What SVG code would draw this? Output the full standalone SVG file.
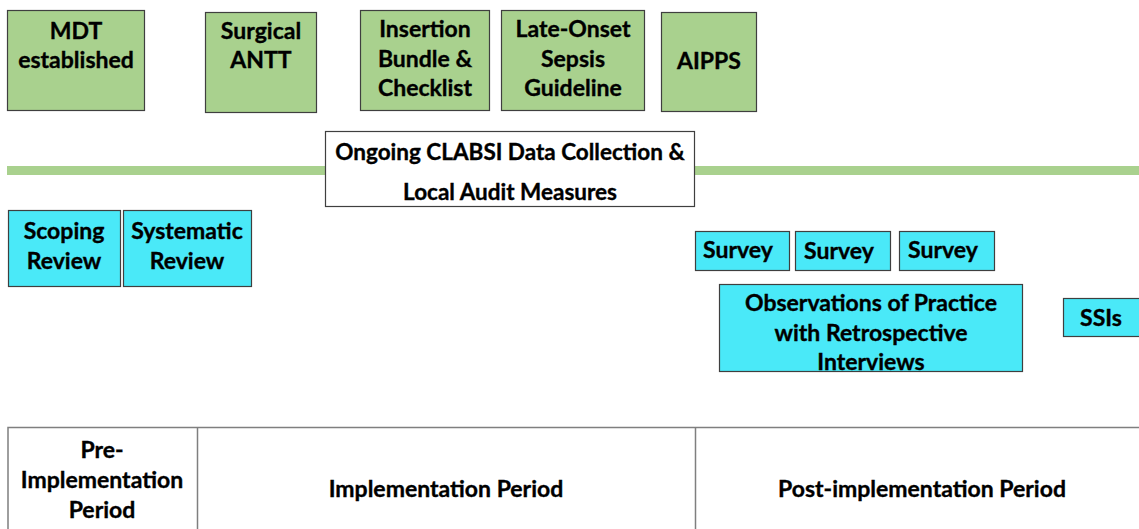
<svg xmlns="http://www.w3.org/2000/svg" width="1139" height="529" viewBox="0 0 1139 529">
<style>
text{font-family:Lato,"Open Sans","Liberation Sans",sans-serif;font-weight:bold;font-size:23px;fill:#000;stroke:#000;stroke-width:0.35;text-anchor:middle}
.s{font-size:22.5px}
.g{fill:#A9D18E;stroke:#3F3F3F;stroke-width:1.2}
.c{fill:#4AE9F8;stroke:#3F3F3F;stroke-width:1.2}
.w{fill:#fff;stroke:#3F3F3F;stroke-width:1.2}
.t{fill:none;stroke:#7F7F7F;stroke-width:1.5}
</style>
<rect width="1139" height="529" fill="#fff"/>
<g id="connectors">
<rect id="timeline" x="7" y="166" width="1132" height="9" fill="#A9D18E"/>
</g>
<g id="mdt"><rect class="g" x="7.5" y="10.5" width="137" height="100"/><text x="76" y="39">MDT</text><text x="76" y="68">established</text></g>
<g id="antt"><rect class="g" x="205.5" y="12.5" width="111" height="100"/><text x="261" y="39">Surgical</text><text x="261" y="68">ANTT</text></g>
<g id="insertion"><rect class="g" x="360.5" y="10.5" width="129" height="100"/><text x="425" y="37">Insertion</text><text x="425" y="67">Bundle &amp;</text><text x="425" y="96">Checklist</text></g>
<g id="sepsis"><rect class="g" x="501.5" y="10.5" width="143" height="100"/><text x="573" y="37">Late-Onset</text><text x="573" y="67">Sepsis</text><text x="573" y="96">Guideline</text></g>
<g id="aipps"><rect class="g" x="661.5" y="12.5" width="95" height="99"/><text x="709" y="69">AIPPS</text></g>
<g id="clabsi"><rect class="w" x="325.5" y="131.5" width="369" height="75"/><text class="s" x="510" y="160">Ongoing CLABSI Data Collection &amp;</text><text class="s" x="510" y="200">Local Audit Measures</text></g>
<g id="scoping"><rect class="c" x="8.5" y="210.5" width="112" height="76"/><text x="64" y="239">Scoping</text><text x="64" y="269">Review</text></g>
<g id="systematic"><rect class="c" x="123.5" y="210.5" width="128" height="76"/><text x="187" y="239">Systematic</text><text x="187" y="269">Review</text></g>
<g id="survey1"><rect class="c" x="695.5" y="231.5" width="94" height="39"/><text x="738" y="258">Survey</text></g>
<g id="survey2"><rect class="c" x="795.5" y="231.5" width="95" height="39"/><text x="839" y="259">Survey</text></g>
<g id="survey3"><rect class="c" x="899.5" y="231.5" width="95" height="39"/><text x="943" y="258">Survey</text></g>
<g id="observations"><rect class="c" x="719.5" y="284.5" width="303" height="87"/><text x="871" y="311">Observations of Practice</text><text x="871" y="341">with Retrospective</text><text x="871" y="370">Interviews</text></g>
<g id="ssis"><rect class="c" x="1063.5" y="298.5" width="80" height="38"/><text x="1101" y="326">SSIs</text></g>
<g id="pre"><path class="t" d="M8 540V427.5H1145M197.5 427.5V540"/><text x="102" y="458">Pre-</text><text x="102" y="488">Implementation</text><text x="102" y="518">Period</text></g>
<g id="implementation"><path class="t" d="M695.5 427.5V540"/><text x="446" y="497">Implementation Period</text></g>
<g id="post"><text x="922" y="497">Post-implementation Period</text></g>
</svg>
